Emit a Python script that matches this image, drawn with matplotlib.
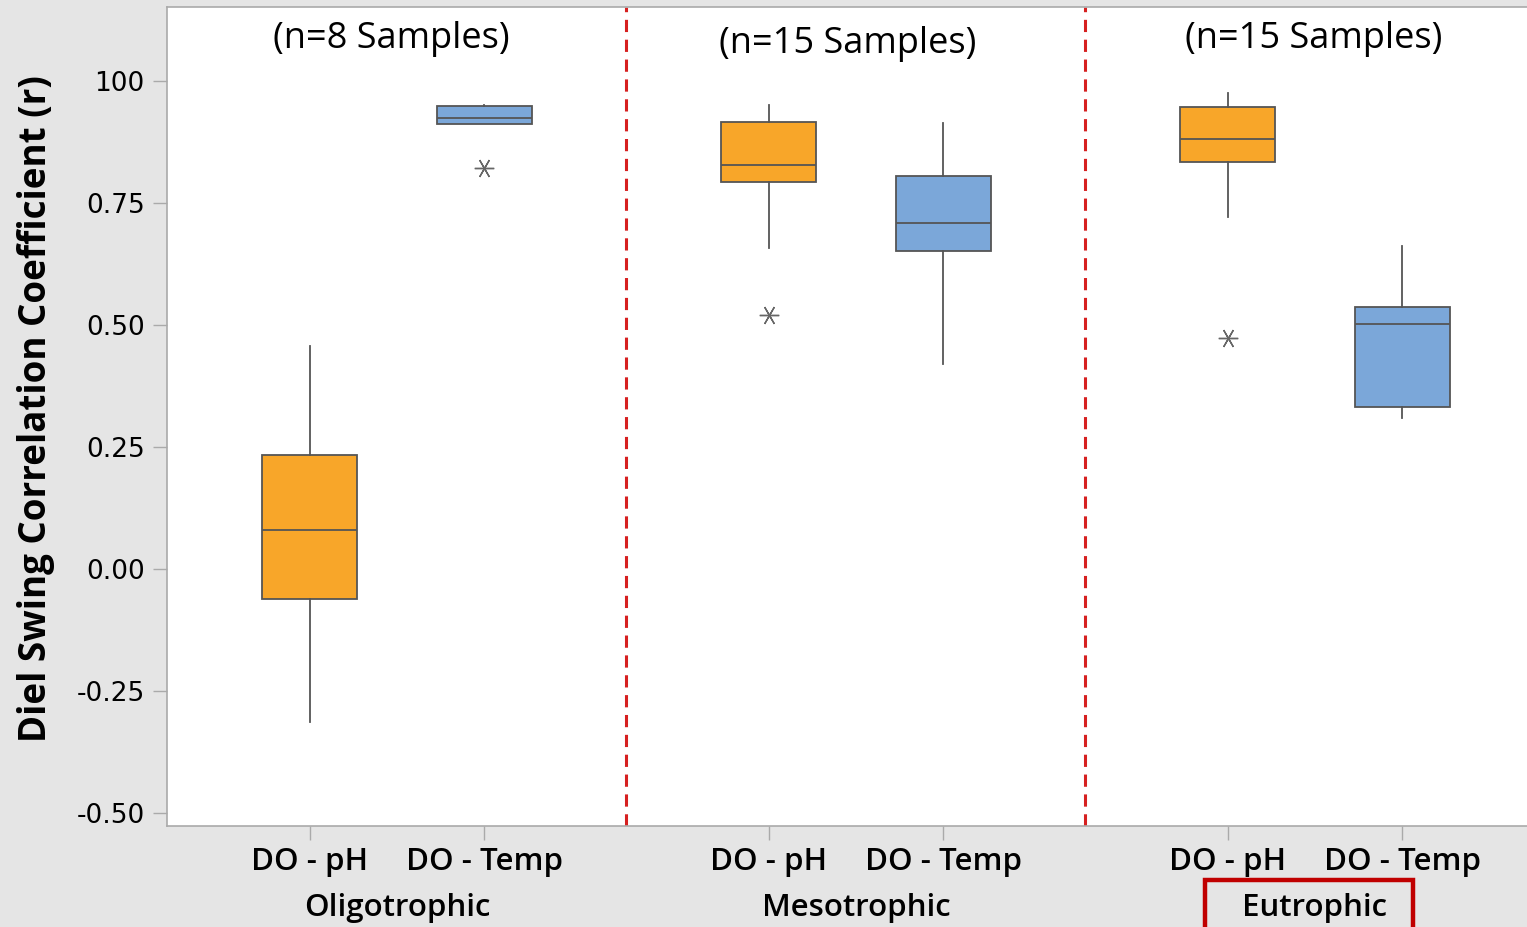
import matplotlib
matplotlib.use("Agg")
import matplotlib.pyplot as plt
import matplotlib.transforms as mtransforms
from matplotlib.patches import Rectangle

# Trophic groups and the two correlation pairs inside each group
groups = ["Oligotrophic", "Mesotrophic", "Eutrophic"]
pairs = ["DO - pH", "DO - Temp"]
sample_notes = ["(n=8 Samples)", "(n=15 Samples)", "(n=15 Samples)"]

# Box statistics, order: Oligo pH, Oligo Temp, Meso pH, Meso Temp, Eutro pH, Eutro Temp
whisker_low = [-0.314, 0.912, 0.658, 0.421, 0.722, 0.310]
q1 = [-0.061, 0.912, 0.794, 0.651, 0.835, 0.333]
median = [0.080, 0.924, 0.829, 0.710, 0.882, 0.503]
q3 = [0.234, 0.949, 0.917, 0.805, 0.947, 0.538]
whisker_high = [0.457, 0.951, 0.951, 0.915, 0.975, 0.662]
outliers = [[], [0.822], [0.520], [], [0.474], []]

y_ticks = [-0.50, -0.25, 0.00, 0.25, 0.50, 0.75, 1.00]
y_tick_labels = ["-0.50", "-0.25", "0.00", "0.25", "0.50", "0.75", "100"]

ORANGE = "#f8a629"
BLUE = "#7ba7d9"
EDGE = "#555555"
BG = "#e5e5e5"

plt.rcParams["font.family"] = ["Open Sans", "DejaVu Sans"]

fig = plt.figure(figsize=(15.27, 9.27), dpi=100, facecolor=BG)
ax = fig.add_axes([167 / 1527, 1 - 826 / 927, 1 - 167 / 1527, (826 - 7) / 927])
ax.set_facecolor("white")

offset = 0.19
positions = []
for g in range(len(groups)):
    positions += [g + 1 - offset, g + 1 + offset]

stats = []
for i in range(len(median)):
    stats.append(dict(med=median[i], q1=q1[i], q3=q3[i],
                      whislo=whisker_low[i], whishi=whisker_high[i],
                      fliers=outliers[i]))

bp = ax.bxp(stats, positions=positions, widths=0.207, patch_artist=True,
            showcaps=False,
            boxprops=dict(edgecolor=EDGE, linewidth=1.3),
            medianprops=dict(color=EDGE, linewidth=1.3),
            whiskerprops=dict(color=EDGE, linewidth=1.3),
            flierprops=dict(marker=(6, 2, 30), markersize=14,
                            markeredgecolor="#666666", markeredgewidth=1.0))
for i, box in enumerate(bp["boxes"]):
    box.set_facecolor(ORANGE if i % 2 == 0 else BLUE)

# Group separators
for xs in [1.5, 2.5]:
    ax.axvline(xs, color="#d62020", linestyle=(0, (4, 2.5)), linewidth=2.2)

ax.set_xlim(0.499, 3.462)
ax.set_ylim(-0.527, 1.152)

ax.set_yticks(y_ticks)
ax.set_yticklabels(y_tick_labels, fontsize=19, family="DejaVu Sans")
ax.set_xticks(positions)
ax.set_xticklabels(pairs * len(groups), fontsize=22.5, fontweight="semibold")
ax.tick_params(axis="both", direction="out", length=10, color="#aaaaaa", width=1)
ax.tick_params(axis="x", pad=5)
ax.tick_params(axis="y", pad=6)

for side in ["left", "top", "bottom"]:
    ax.spines[side].set_color("#aaaaaa")
    ax.spines[side].set_linewidth(1.2)
ax.spines["right"].set_visible(False)

ax.set_ylabel("Diel Swing Correlation Coefficient (r)", fontsize=26.5,
              fontweight="bold")
ax.yaxis.set_label_coords(-0.082, 0.51)

# Sample counts above each group
note_y = [1.087, 1.077, 1.087]
note_dx = [-0.013, -0.017, -0.002]
for g, note in enumerate(sample_notes):
    ax.text(g + 1 + note_dx[g], note_y[g], note, ha="center", va="center",
            fontsize=26)

# Group names under the pair labels
blend = mtransforms.blended_transform_factory(ax.transData, fig.transFigure)
for g, name in enumerate(groups):
    fig.text(g + 1, 1 - 908 / 927, name, transform=blend, ha="center",
             va="center", fontsize=22.5, fontweight="semibold")

# Highlight frame around the eutrophic group name
frame = Rectangle((2.760, -0.02), 3.2135 - 2.760, 0.02 + 47 / 927,
                  transform=blend, fill=False, edgecolor="#c00000",
                  linewidth=3.2, clip_on=False)
fig.add_artist(frame)

fig.savefig("out.png", dpi=100, facecolor=BG)
